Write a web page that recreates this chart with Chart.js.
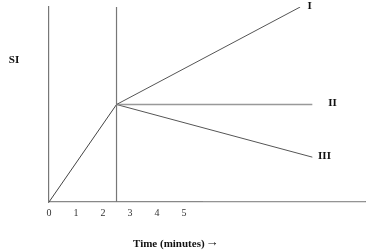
<!DOCTYPE html>
<html>
<head>
<meta charset="utf-8">
<script src="https://cdn.jsdelivr.net/npm/chart.js@4"></script>
<style>
  html, body { margin: 0; padding: 0; background: #fff; }
  #wrap { width: 367px; height: 252px; }
</style>
</head>
<body>
<div id="wrap"><canvas id="siChart" width="367" height="252"></canvas></div>
<script>
// Data (time in minutes, SI in arbitrary units)
const xTickLabels = [0, 1, 2, 3, 4, 5];
const risePoints = [{ x: 0, y: 0 }, { x: 2.5, y: 5 }];
const curveI = [{ x: 2.5, y: 5 }, { x: 9.3, y: 10 }];
const curveII = [{ x: 2.5, y: 5 }, { x: 9.75, y: 5 }];
const curveIII = [{ x: 2.5, y: 5 }, { x: 9.75, y: 2.3 }];
const markerLine = [{ x: 2.5, y: 0 }, { x: 2.5, y: 10 }];
const baseTail = [{ x: 5.7, y: 0 }, { x: 11.7, y: 0 }];
const curveLabels = [
  { text: "I", x: 9.65, y: 10.05 },
  { text: "II", x: 10.5, y: 5.05 },
  { text: "III", x: 10.2, y: 2.35 },
];

const SERIF = "'Liberation Serif', 'DejaVu Serif', serif";

function lineSet(data, color, width) {
  return {
    data: data,
    borderColor: color,
    borderWidth: width,
    pointRadius: 0,
    fill: false,
    tension: 0,
  };
}

// draws SI, curve names and the axis title as canvas text
const textPlugin = {
  id: "siText",
  afterDraw(chart) {
    const { ctx, scales } = chart;
    ctx.save();
    ctx.fillStyle = "#111";
    ctx.textBaseline = "middle";
    ctx.textAlign = "center";
    ctx.font = "bold 11px " + SERIF;
    curveLabels.forEach((l) => {
      ctx.fillText(l.text, scales.x.getPixelForValue(l.x), scales.y.getPixelForValue(l.y));
    });
    ctx.fillText("SI", 14, 60);
    ctx.textAlign = "left";
    const title = "Time (minutes)";
    ctx.fillText(title, 133, 244);
    const w = ctx.measureText(title).width;
    ctx.font = "bold 13px " + SERIF;
    ctx.fillText("\u2192", 133 + w + 1, 243);
    ctx.restore();
  },
};

const ctx = document.getElementById("siChart").getContext("2d");
new Chart(ctx, {
  type: "line",
  data: {
    datasets: [
      lineSet(markerLine, "#777", 1.2),
      lineSet(baseTail, "#999", 1.6),
      lineSet(risePoints, "#444", 1),
      lineSet(curveI, "#555", 1),
      lineSet(curveII, "#999", 1.3),
      lineSet(curveIII, "#555", 1),
    ],
  },
  options: {
    responsive: false,
    animation: false,
    layout: { padding: { top: 7, right: 2, left: 49, bottom: 0 } },
    plugins: { legend: { display: false }, tooltip: { enabled: false } },
    scales: {
      x: {
        type: "linear",
        min: 0,
        max: 11.7,
        grid: { display: false, drawTicks: false },
        border: { color: "#888", width: 1.2 },
        afterBuildTicks: (scale) => {
          scale.ticks = xTickLabels.map((v) => ({ value: v }));
        },
        afterFit: (scale) => { scale.height = 50; },
        ticks: {
          color: "#333",
          padding: 5,
          maxRotation: 0,
          font: { family: SERIF, size: 10 },
        },
      },
      y: {
        min: 0,
        max: 10,
        grid: { display: false, drawTicks: false },
        border: { color: "#777", width: 1.2 },
        ticks: { display: false },
        afterFit: (scale) => { scale.width = 0; },
      },
    },
  },
  plugins: [textPlugin],
});
</script>
</body>
</html>
